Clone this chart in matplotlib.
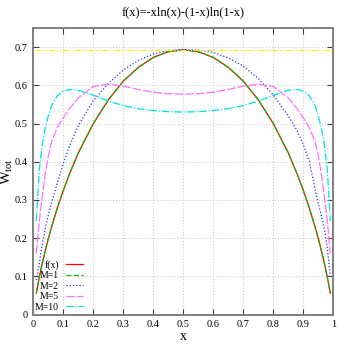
import matplotlib
matplotlib.use("Agg")
import matplotlib.pyplot as plt

plt.rcParams['font.family'] = ['Liberation Serif', 'DejaVu Serif']
plt.rcParams['mathtext.fontset'] = 'custom'
plt.rcParams['mathtext.rm'] = 'Liberation Serif'
plt.rcParams['mathtext.it'] = 'Liberation Serif:italic'

# values
x = [0.01, 0.02, 0.03, 0.04, 0.05, 0.06, 0.08, 0.1, 0.12, 0.15, 0.2, 0.25, 0.3, 0.35, 0.4, 0.45, 0.5,
     0.55, 0.6, 0.65, 0.7, 0.75, 0.8, 0.85, 0.88, 0.9, 0.92, 0.94, 0.95, 0.96, 0.97, 0.98, 0.99]

fx = [0.056, 0.098, 0.135, 0.168, 0.199, 0.227, 0.279, 0.325, 0.367, 0.423, 0.500, 0.562, 0.611, 0.647, 0.673, 0.688, 0.693,
      0.688, 0.673, 0.647, 0.611, 0.562, 0.500, 0.423, 0.367, 0.325, 0.279, 0.227, 0.199, 0.168, 0.135, 0.098, 0.056]

m1 = [0.056, 0.098, 0.135, 0.168, 0.199, 0.227, 0.279, 0.325, 0.367, 0.423, 0.500, 0.562, 0.611, 0.647, 0.673, 0.688, 0.693,
      0.688, 0.673, 0.647, 0.611, 0.562, 0.500, 0.423, 0.367, 0.325, 0.279, 0.227, 0.199, 0.168, 0.135, 0.098, 0.056]

m2 = [0.09, 0.135, 0.185, 0.225, 0.26, 0.29, 0.345, 0.395, 0.44, 0.495, 0.56, 0.605, 0.64, 0.665, 0.682, 0.691, 0.694,
      0.692, 0.686, 0.672, 0.65, 0.618, 0.575, 0.52, 0.48, 0.445, 0.40, 0.325, 0.29, 0.26, 0.225, 0.175, 0.10]

m5 = [0.16, 0.245, 0.31, 0.37, 0.415, 0.45, 0.49, 0.515, 0.538, 0.567, 0.597, 0.603, 0.598, 0.589, 0.582, 0.578, 0.577,
      0.578, 0.582, 0.589, 0.598, 0.603, 0.597, 0.567, 0.538, 0.515, 0.49, 0.45, 0.415, 0.37, 0.31, 0.245, 0.16]

m10 = [0.245, 0.38, 0.445, 0.49, 0.52, 0.545, 0.573, 0.585, 0.589, 0.587, 0.574, 0.559, 0.547, 0.539, 0.534, 0.531, 0.53,
       0.531, 0.534, 0.539, 0.547, 0.559, 0.574, 0.587, 0.589, 0.585, 0.573, 0.545, 0.52, 0.49, 0.445, 0.38, 0.245]

limit_x = [0.01, 0.99]
limit_y = [0.693, 0.693]

xticks = [0, 0.1, 0.2, 0.3, 0.4, 0.5, 0.6, 0.7, 0.8, 0.9, 1]
xtick_labels = ["0", "0.1", "0.2", "0.3", "0.4", "0.5", "0.6", "0.7", "0.8", "0.9", "1"]
yticks = [0, 0.1, 0.2, 0.3, 0.4, 0.5, 0.6, 0.7]
ytick_labels = ["0", "0.1", "0.2", "0.3", "0.4", "0.5", "0.6", "0.7"]

fig = plt.figure(figsize=(3.46, 3.46), dpi=100)
ax = fig.add_axes([0.0963, 0.091, 0.867, 0.828])

lw = 0.9
ax.plot(x, fx, color="#ff0000", lw=lw, label="f(x)")
ax.plot(x, m1, color="#00c000", lw=lw, dashes=(4, 2), label="M=1")
ax.plot(x, m2, color="#3030ff", lw=lw, dashes=(1, 1.6), label="M=2")
ax.plot(x, m5, color="#ff70ff", lw=lw, dashes=(7, 1.5), label="M=5")
ax.plot(x, m10, color="#00e0e0", lw=lw, dashes=(6, 1.5, 1, 1.5), label="M=10")
ax.plot(limit_x, limit_y, color="#f0f000", lw=lw, dashes=(4, 1.5, 1, 1.5, 1, 1.5))

ax.set_xlim(0, 1)
ax.set_ylim(0, 0.75)
ax.set_xticks(xticks)
ax.set_xticklabels(xtick_labels)
ax.set_yticks(yticks)
ax.set_yticklabels(ytick_labels)
ax.tick_params(direction="in", length=4, width=0.8, top=True, right=True, labelsize=7.5, pad=4, color="#404040")
ax.grid(True, color="#cccccc", linestyle=":", linewidth=0.8)
for s in ax.spines.values():
    s.set_color("#808080")
    s.set_linewidth(1.4)

ax.set_title("f(x)=-xln(x)-(1-x)ln(1-x)", fontsize=9, pad=9)
ax.set_xlabel("x", fontsize=10, va="center")
ax.xaxis.set_label_coords(0.5, -0.077)
ax.set_ylabel(r"W$_{\mathrm{tot}}$", fontsize=10.5, va="center")
ax.yaxis.set_label_coords(-0.088, 0.5)

leg = ax.legend(loc="lower left", bbox_to_anchor=(-0.005, 0.0), frameon=False, fontsize=7,
                markerfirst=False, handlelength=1.8, handletextpad=0.7, labelspacing=0.15,
                borderpad=0.2, borderaxespad=0.1)
for col in leg._legend_handle_box.get_children():
    col.align = "right"

fig.savefig("out.png", dpi=100)
